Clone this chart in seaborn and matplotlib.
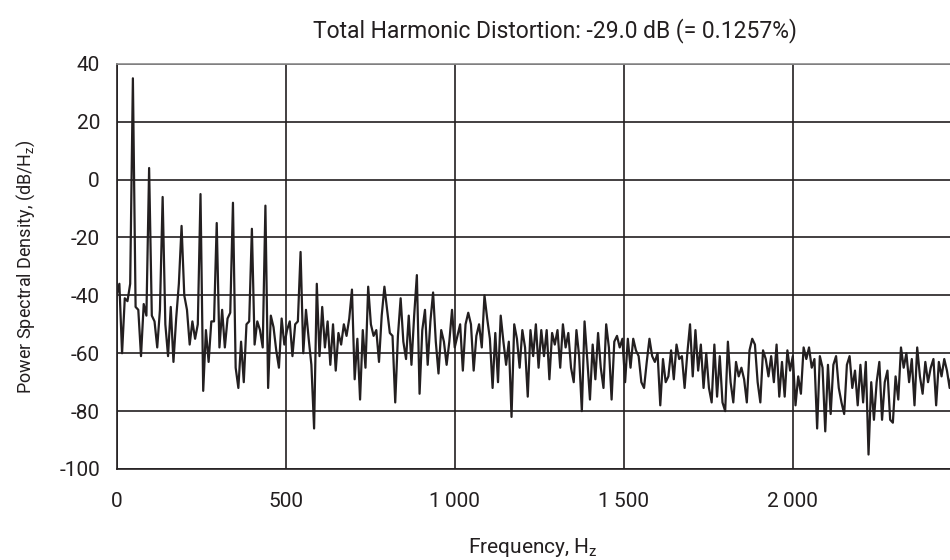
import numpy as np
import pandas as pd
import seaborn as sns
import matplotlib.pyplot as plt
from matplotlib.ticker import FuncFormatter

# spectrum, one value every 8 Hz (dB/Hz)
freq_step = 8
psd_db = [
    -40, -36, -60, -41, -42, -36, 35, -44, -45, -61,      # 0 - 72
    -43, -47, 4, -47, -49, -58, -45, -6, -50, -61,        # 80 - 152
    -44, -63, -48, -36, -16, -40, -45, -57, -49, -55,     # 160 - 232
    -50, -5, -73, -52, -63, -49, -49, -15, -58, -45,      # 240 - 312
    -58, -48, -46, -8, -65, -72, -56, -70, -50, -49,      # 320 - 392
    -17, -57, -49, -52, -58, -9, -72, -47, -51, -59,      # 400 - 472
    -65, -48, -57, -52, -49, -61, -50, -49, -25, -60,     # 480 - 552
    -45, -55, -64, -86, -36, -61, -44, -58, -49, -64,     # 560 - 632
    -50, -66, -53, -57, -50, -54, -48, -38, -69, -55,     # 640 - 712
    -76, -52, -65, -37, -50, -54, -52, -63, -47, -37,     # 720 - 792
    -45, -53, -54, -77, -54, -41, -56, -62, -47, -64,     # 800 - 872
    -47, -33, -74, -52, -45, -64, -49, -39, -56, -67,     # 880 - 952
    -52, -56, -64, -56, -45, -58, -54, -50, -66, -50,     # 960 - 1032
    -46, -50, -66, -54, -50, -58, -40, -48, -55, -72,     # 1040 - 1112
    -53, -70, -47, -56, -64, -56, -82, -50, -55, -65,     # 1120 - 1192
    -52, -58, -75, -52, -61, -50, -65, -52, -61, -52,     # 1200 - 1272
    -69, -53, -57, -52, -65, -50, -58, -53, -65, -70,     # 1280 - 1352
    -52, -61, -80, -49, -62, -76, -57, -69, -53, -65,     # 1360 - 1432
    -72, -50, -58, -76, -56, -54, -58, -55, -70, -55,     # 1440 - 1512
    -65, -55, -59, -61, -70, -72, -63, -55, -61, -63,     # 1520 - 1592
    -60, -78, -62, -70, -68, -59, -69, -57, -62, -61,     # 1600 - 1672
    -72, -60, -50, -68, -52, -66, -57, -72, -60, -72,     # 1680 - 1752
    -77, -57, -75, -61, -77, -80, -56, -70, -77, -63,     # 1760 - 1832
    -68, -65, -69, -77, -59, -55, -57, -70, -77, -59,     # 1840 - 1912
    -62, -68, -61, -70, -57, -75, -63, -75, -59, -66,     # 1920 - 1992
    -61, -78, -68, -74, -58, -62, -58, -65, -62, -86,     # 2000 - 2072
    -61, -65, -87, -64, -81, -64, -61, -72, -77, -81,     # 2080 - 2152
    -64, -61, -72, -66, -78, -64, -77, -63, -95, -70,     # 2160 - 2232
    -83, -70, -63, -83, -70, -66, -83, -84, -68, -76,     # 2240 - 2312
    -58, -65, -60, -70, -62, -78, -58, -68, -74, -63,     # 2320 - 2392
    -70, -65, -62, -78, -63, -68, -62, -66, -72, -65,     # 2400 - 2472
]
freq = np.arange(len(psd_db)) * freq_step

x_ticks = [0, 500, 1000, 1500, 2000]
y_ticks = [-100, -80, -60, -40, -20, 0, 20, 40]
title = "Total Harmonic Distortion: -29.0 dB (= 0.1257%)"

df = pd.DataFrame({"Frequency": freq, "PSD": psd_db})

sns.set_theme(style="white")
plt.rcParams["font.family"] = ["Roboto", "DejaVu Sans"]
plt.rcParams["axes.unicode_minus"] = False

fig = plt.figure(figsize=(9.5, 5.6), dpi=100)
ax = fig.add_axes([0.1228, 0.1625, 0.8772, 0.7235])

ink = "#231f20"
sns.lineplot(data=df, x="Frequency", y="PSD", ax=ax, color=ink, linewidth=1.6)

ax.set_xlim(0, 2465)
ax.set_ylim(-100, 40)
ax.set_xticks(x_ticks)
ax.set_yticks(y_ticks)
ax.xaxis.set_major_formatter(FuncFormatter(lambda v, p: f"{int(v):,}".replace(",", "\u2009")))

ax.grid(True, color=ink, linewidth=1.2)
ax.set_axisbelow(True)
ax.spines["right"].set_visible(False)
ax.spines["top"].set_color("#8c8c8c")
ax.spines["top"].set_linewidth(1.2)
for side in ["left", "bottom"]:
    ax.spines[side].set_color(ink)
    ax.spines[side].set_linewidth(1.2)

ax.tick_params(axis="x", direction="inout", length=9, width=1, color=ink,
               labelsize=15, pad=12, labelcolor=ink)
ax.tick_params(axis="y", direction="out", length=6, width=1, color=ink,
               labelsize=15, pad=6, labelcolor=ink)

ax.set_xlabel(r"Frequency, H$_\mathregular{z}$", fontsize=15, color=ink, labelpad=18)
ax.set_ylabel(r"Power Spectral Density, (dB/H$_\mathregular{z}$)", fontsize=13,
              color=ink, labelpad=16)
fig.text(0.584, 0.945, title, ha="center", va="center", fontsize=16.5, color=ink)

fig.savefig("out.png", dpi=100)
